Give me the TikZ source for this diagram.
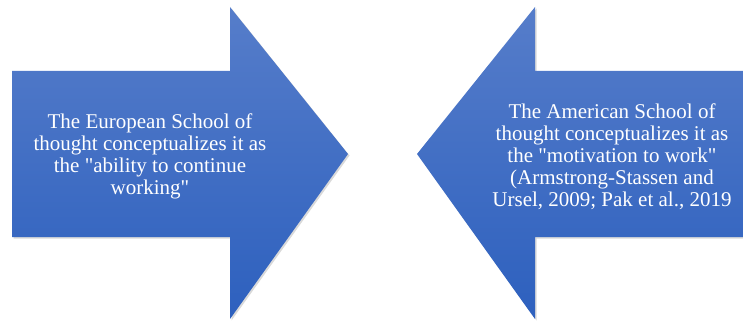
\documentclass[tikz,border=0pt]{standalone}
\usepackage{fontspec}
\setmainfont{Liberation Serif}
\usetikzlibrary{shadows}
\begin{document}
\begin{tikzpicture}[x=1pt,y=1pt,
					arrow fill/.style = {top color={rgb,255:red,86;green,125;blue,202}, bottom color={rgb,255:red,45;green,96;blue,190}, drop shadow={opacity=0.3,shadow xshift=1.5pt,shadow yshift=-1.5pt}},
					label node/.style = {text=white, align=center, font=\fontsize{21}{22}\selectfont, inner sep = 0pt}]
					
					\useasboundingbox (0,0) rectangle (743,327);
					
					% left arrow
					\coordinate (l1) at (12,256);
					\coordinate (l2) at (230,256);
					\coordinate (l3) at (230,320);
					\coordinate (ltip) at (348,173);
					\coordinate (l4) at (230,8);
					\coordinate (l5) at (230,90);
					\coordinate (l6) at (12,90);
					\path[arrow fill] (l1) -- (l2) -- (l3) -- (ltip) -- (l4) -- (l5) -- (l6) -- cycle;
					
					% right arrow
					\coordinate (r1) at (743,256);
					\coordinate (r2) at (535,256);
					\coordinate (r3) at (535,320);
					\coordinate (rtip) at (417,173);
					\coordinate (r4) at (535,8);
					\coordinate (r5) at (535,90);
					\coordinate (r6) at (743,90);
					\path[arrow fill] (r1) -- (r2) -- (r3) -- (rtip) -- (r4) -- (r5) -- (r6) -- cycle;
					
					\node[label node] (europe) at (150,171) {The European School of\\thought conceptualizes it as\\the \textquotedbl ability to continue\\working\textquotedbl};
					\node[label node] (america) at (612,170) {The American School of\\thought conceptualizes it as\\the \textquotedbl motivation to work\textquotedbl\\(Armstrong-Stassen and\\Ursel, 2009; Pak et al., 2019};
					
					\end{tikzpicture}
\end{document}
